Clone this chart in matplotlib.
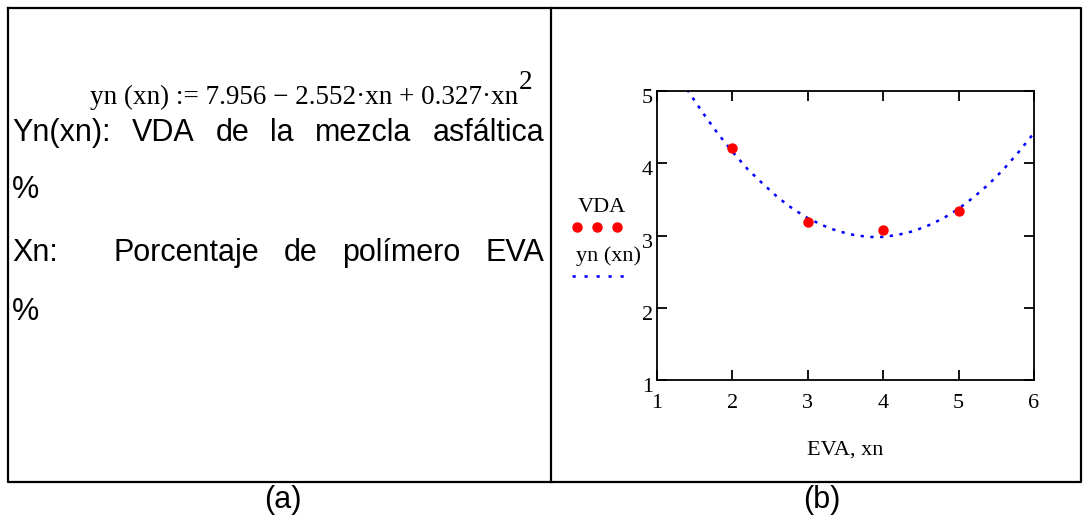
import matplotlib.pyplot as plt
import matplotlib.transforms as mtransforms

# data
eva_pts = [2, 3, 4, 5]
vda_pts = [4.21, 3.18, 3.07, 3.34]

# fitted curve yn(xn), sampled as in the picture
xn_curve = [1.4, 1.6, 1.8, 2.0, 2.2, 2.4, 2.6, 2.8, 3.0, 3.2, 3.4, 3.6,
            3.8, 4.0, 4.2, 4.4, 4.6, 4.8, 5.0, 5.2, 5.4, 5.6, 5.8, 6.0]
yn_curve = [5.02, 4.71, 4.42, 4.16, 3.92, 3.72, 3.53, 3.37, 3.24, 3.14, 3.06, 3.01,
            2.98, 2.98, 3.01, 3.06, 3.14, 3.24, 3.37, 3.53, 3.71, 3.92, 4.16, 4.42]

x_ticks = [1, 2, 3, 4, 5, 6]
y_ticks = [1, 2, 3, 4, 5]

W, H = 1089, 517
serif = 'Liberation Serif'
sans = 'Liberation Sans'
dotted = (0, (1.3, 2.6))

fig = plt.figure(figsize=(W / 100, H / 100), dpi=100)

# background axes in pixel coordinates
bg = fig.add_axes([0, 0, 1, 1])
bg.set_xlim(0, W)
bg.set_ylim(H, 0)
bg.axis('off')

# table frame
lw = 1.6
bg.plot([8, 1081, 1081, 8, 8], [8, 8, 482, 482, 8], color='black', lw=lw)
bg.plot([551, 551], [8, 482], color='black', lw=lw)

renderer = fig.canvas.get_renderer()


def justify(words, x0, x1, y, size):
    texts = [bg.text(0, y, w, fontsize=size, family=sans, va='center', ha='left')
             for w in words]
    widths = [t.get_window_extent(renderer).width for t in texts]
    gap = (x1 - x0 - sum(widths)) / max(len(words) - 1, 1)
    x = x0
    for t, wd in zip(texts, widths):
        t.set_x(x)
        x += wd + gap


# left panel text
bg.text(518, 104, 'yn (xn) := 7.956 \u2212 2.552\u00b7xn + 0.327\u00b7xn', fontsize=19.5,
        family=serif, ha='right', va='baseline')
bg.text(519, 89, '2', fontsize=19.5, family=serif, ha='left', va='baseline')

fs = 22
justify(['Yn(xn):', 'VDA', 'de', 'la', 'mezcla', 'asfáltica'], 12, 544, 133, fs)
bg.text(12, 190, '%', fontsize=fs, family=sans, va='center')
bg.text(12, 253, 'Xn:', fontsize=fs, family=sans, va='center')
justify(['Porcentaje', 'de', 'polímero', 'EVA'], 114, 544, 253, fs)
bg.text(12, 312, '%', fontsize=fs, family=sans, va='center')

bg.text(283, 500, '(a)', fontsize=fs, family=sans, ha='center', va='center')
bg.text(822, 500, '(b)', fontsize=fs, family=sans, ha='center', va='center')

# legend (Mathcad style: label above sample)
bg.text(602, 207, 'VDA', fontsize=16, family=serif, ha='center', va='center')
bg.plot([577, 597, 617], [227, 227, 227], 'o', color='red', ms=6.5, mec='red')
bg.text(609, 256, 'yn (xn)', fontsize=16, family=serif, ha='center', va='center')
bg.plot([572, 624], [276, 276], color='blue', lw=1.8, linestyle=(0, (1.3, 3.5)))

# plot panel
ax = fig.add_axes([657 / W, 1 - 380 / H, (1034 - 657) / W, (380 - 91) / H])
ax.plot(xn_curve, yn_curve, color='blue', lw=1.8, linestyle=dotted)
ax.plot(eva_pts, vda_pts, 'o', color='red', ms=6.5, mec='red')
ax.set_xlim(1, 6)
ax.set_ylim(1, 5)
ax.set_xticks(x_ticks)
ax.set_yticks(y_ticks)
ax.tick_params(direction='in', length=7, width=1.3, top=True, right=True,
               labelsize=16)
ax.tick_params(axis='x', pad=10)
ax.tick_params(axis='y', pad=3)
shift = mtransforms.ScaledTranslation(0, -5 / 100, fig.dpi_scale_trans)
for lab in ax.get_yticklabels():
    lab.set_transform(lab.get_transform() + shift)
for lab in ax.get_xticklabels() + ax.get_yticklabels():
    lab.set_family(serif)
for s in ax.spines.values():
    s.set_linewidth(1.3)
ax.set_xlabel('EVA, xn', fontsize=16, family=serif, labelpad=20)

fig.savefig('out.png', dpi=100)
